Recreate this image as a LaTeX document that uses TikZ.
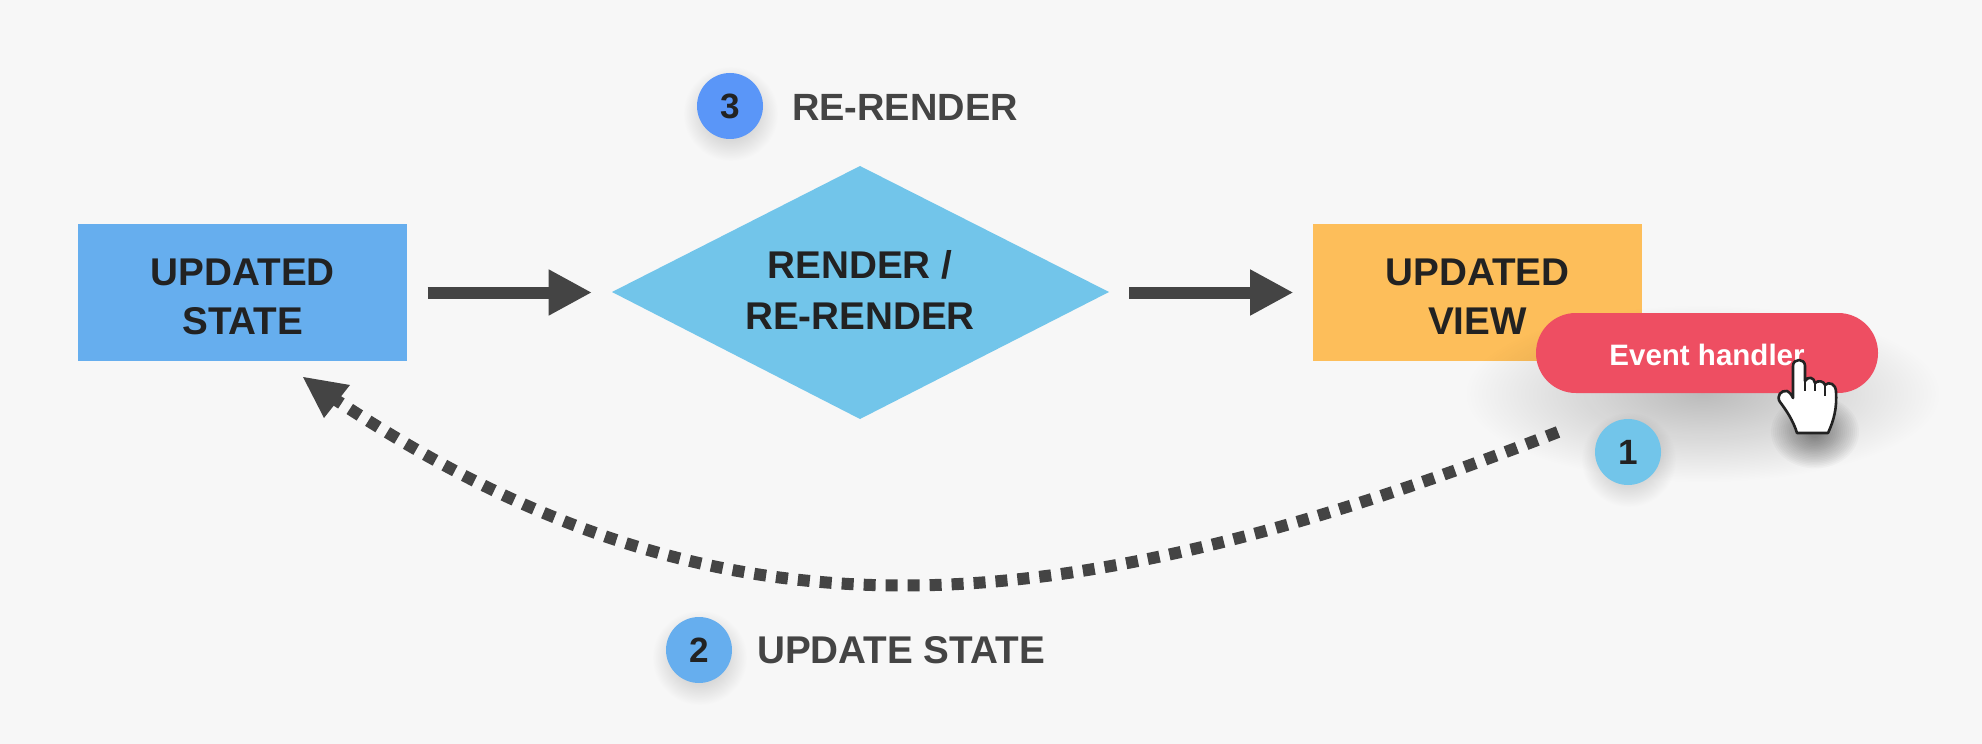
\documentclass[tikz,border=0pt]{standalone}
\usepackage{fontspec}
\setmainfont{Liberation Sans}
\usetikzlibrary{arrows.meta,fadings}
\definecolor{bgc}{HTML}{F7F7F7}
\definecolor{ink}{HTML}{222222}
\definecolor{gray4}{HTML}{444444}
\definecolor{blueb}{HTML}{66AEEE}
\definecolor{cyanb}{HTML}{72C5EA}
\definecolor{orangeb}{HTML}{FDBE5A}
\definecolor{redb}{HTML}{EE4E62}
\definecolor{bluec}{HTML}{5A96F8}
\tikzfading[name=softshadow,inner color=transparent!76,outer color=transparent!100]
\newcommand{\softcircle}[3]{% x y r
  \foreach \k in {1,...,30}{
    \fill[black,opacity=0.005] (#1+1,#2+8) circle ({#3+15-\k*0.7});
  }}
\tikzset{
  x=0.05cm,y=-0.05cm,
  boxnode/.style={minimum width=16.45cm,minimum height=6.85cm,inner sep=0pt},
  boxtext/.style={inner sep=0pt,align=center,font=\fontsize{55}{69.7}\selectfont\bfseries,text=ink},
  badge/.style={circle,minimum size=3.3cm,inner sep=0pt,font=\fontsize{50}{60}\selectfont\bfseries,text=ink},
  steplabel/.style={anchor=west,inner sep=0pt,font=\fontsize{55}{68}\selectfont\bfseries,text=gray4},
  flow/.style={draw=gray4,line width=0.6cm,-{Triangle[length=2.17cm,width=2.15cm]}},
  dots/.style={draw=gray4,line width=0.6cm,dash pattern=on 0.6cm off 0.5cm},
}
\begin{document}
\begin{tikzpicture}
\useasboundingbox (0,0) rectangle (1982,744);
\fill[bgc] (0,0) rectangle (1982,744);
% shapes
\node[boxnode,fill=blueb] (state) at (242.8,292.5) {};
\node[boxtext] (statet) at (242.8,296.7) {UPDATED\\STATE};
\path[fill=cyanb] (612,292) -- (860,166) -- (1109,292) -- (860,419) -- cycle;
\node[boxtext,font=\fontsize{55}{72.5}\selectfont\bfseries] (render) at (860,290) {RENDER /\\RE-RENDER};
\node[boxnode,fill=orangeb] (view) at (1477.5,292.5) {};
\node[boxtext] (viewt) at (1477.5,296.7) {UPDATED\\VIEW};
% connectors
\coordinate (a1s) at (427.5,292.5); \coordinate (a1e) at (592,292.5);
\coordinate (a2s) at (1129,292.5); \coordinate (a2e) at (1293.5,292.5);
\draw[flow] (a1s) -- (a1e);
\draw[flow] (a2s) -- (a2e);
% dotted curve
\coordinate (cs) at (1558,432);
\coordinate (ce) at (333,398);
\coordinate (tip) at (303,377);
\draw[dots] (cs) .. controls (1020,642) and (700,642) .. (ce);
\fill[gray4] (tip) -- (350,385) -- (324,418) -- cycle;
% pill shadow
\fill[black,path fading=softshadow] (1465,305) rectangle (1940,482);
\softcircle{1628}{452}{33}
\softcircle{730}{106}{33}
\softcircle{699}{650}{33}
\node[badge,fill=cyanb] (b1) at (1628,452) {1};
\node[badge,fill=bluec] (b3) at (730,106) {3};
\node[badge,fill=blueb] (b2) at (699,650) {2};
\node[steplabel,font=\fontsize{54}{68}\selectfont\bfseries] (l3) at (792,107) {RE-RENDER};
\node[steplabel] (l2) at (757,650) {UPDATE STATE};
% pill
\node[rounded corners=1.99cm,fill=redb,minimum width=17.1cm,minimum height=4cm,inner sep=0pt] (pill) at (1707,353) {};
\node[inner sep=0pt,font=\fontsize{42}{50}\selectfont\bfseries,text=white] (pillt) at (1707,355) {Event handler};
% hand shadow
\foreach \k in {1,...,20}{
  \fill[black,opacity=0.022] (1815,432) ellipse ({46-\k*2} and {38-\k*1.6});
}
% hand
\draw[fill=white,draw=ink,line width=0.13cm,line join=round]
  (1793,366) .. controls (1793,358) and (1805,358) .. (1805,366)
  -- (1805,381) .. controls (1808,376) and (1814,377) .. (1815,383)
  .. controls (1818,380) and (1824,381) .. (1825,385)
  .. controls (1829,381) and (1836,384) .. (1836,392)
  .. controls (1837,408) and (1834,420) .. (1828,433)
  -- (1797,433) .. controls (1793,420) and (1786,410) .. (1780,402)
  .. controls (1776,396) and (1781,390) .. (1787,391)
  .. controls (1789,392) and (1792,395) .. (1793,398) -- cycle;
\draw[ink,line width=0.09cm] (1805,381) -- (1805,391) (1815,383) -- (1815,391) (1825,385) -- (1825,396);
\end{tikzpicture}
\end{document}
